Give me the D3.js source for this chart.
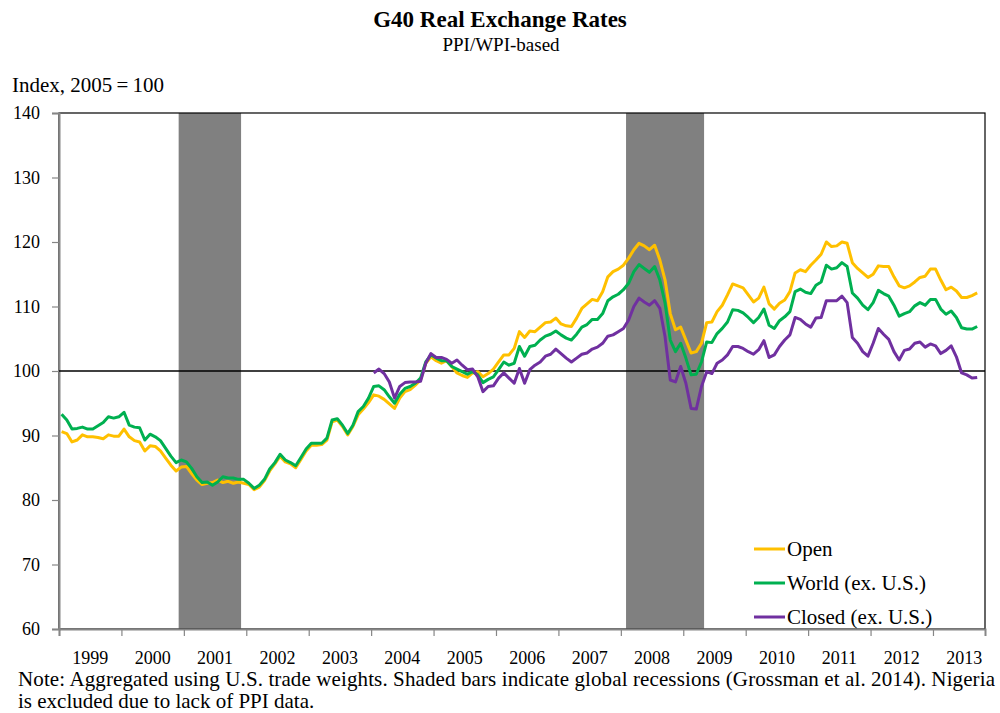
<!DOCTYPE html>
<html><head><meta charset="utf-8">
<script src="https://cdn.jsdelivr.net/npm/d3@7/dist/d3.min.js"></script>
<style>body{margin:0;background:#fff}svg{display:block}text{font-family:"Liberation Serif","Times New Roman",serif;fill:#000}</style>
</head><body><svg id="c" width="1000" height="713"></svg>
<script>
// Monthly data, Jan 1999 .. Sep 2013
const startYear = 1999;
const yearLabels = ["1999","2000","2001","2002","2003","2004","2005","2006","2007","2008","2009","2010","2011","2012","2013"];
const yTicks = [60,70,80,90,100,110,120,130,140];
const recessions = [["2000-12","2001-11"],["2008-02","2009-04"]];
const seriesNames = ["Open","World (ex. U.S.)","Closed (ex. U.S.)"];
const open = [
90.6,90.3,89.0,89.3,90.1,89.8,89.8,89.7,89.5,90.1,89.9,89.9,
91.0,89.8,89.2,89.0,87.6,88.4,88.3,87.6,86.5,85.4,84.5,85.1,
85.2,84.1,83.1,82.4,82.6,82.7,83.1,82.7,82.9,82.6,82.8,82.6,
82.4,81.6,82.0,83.0,84.5,85.6,86.8,85.9,85.6,85.0,86.3,87.6,
88.5,88.5,88.6,89.3,92.1,92.4,91.4,90.1,91.4,93.2,94.1,95.1,
96.3,96.1,95.6,94.9,94.2,95.8,96.8,97.1,97.8,98.6,101.2,102.2,
101.6,101.2,101.6,100.7,99.7,99.3,99.0,99.7,99.9,99.1,99.6,100.3,
101.4,102.5,102.5,103.5,106.1,105.2,106.2,106.1,106.8,107.5,107.6,108.2,
107.3,107.0,106.9,108.2,109.7,110.4,111.1,110.9,112.3,114.6,115.4,115.8,
116.4,117.5,118.8,119.8,119.4,118.8,119.5,117.2,114.1,108.9,106.4,106.8,
104.8,102.8,103.0,104.3,107.5,107.6,109.2,110.2,111.8,113.5,113.2,112.9,
111.8,110.7,111.3,113.0,110.4,109.6,110.5,111.0,112.3,115.2,115.7,115.4,
116.4,117.2,118.1,120.0,119.3,119.4,120.0,119.8,116.8,115.9,115.2,114.5,
115.0,116.3,116.2,116.2,114.6,113.2,112.9,113.2,113.8,114.5,114.7,115.8,
115.8,114.1,112.6,113.0,112.4,111.4,111.4,111.7,112.1];
const world = [
93.3,92.4,91.0,91.1,91.3,91.0,91.0,91.5,92.0,92.9,92.7,92.9,
93.6,91.6,91.3,91.2,89.3,90.2,89.8,89.2,88.0,86.8,85.8,86.2,
85.9,84.9,83.6,82.7,82.8,82.3,82.8,83.6,83.4,83.4,83.2,83.2,
82.6,81.8,82.3,83.2,84.8,85.8,87.1,86.2,85.8,85.3,86.6,87.9,
88.8,88.8,88.8,89.6,92.4,92.6,91.6,90.3,91.6,93.7,94.5,95.8,
97.6,97.7,97.1,96.0,95.0,96.4,97.3,97.6,98.1,98.9,101.4,102.5,
102.0,101.6,101.6,100.7,100.3,99.9,99.5,99.9,99.4,98.2,98.7,99.1,
100.2,101.4,100.9,101.2,103.8,102.3,103.8,104.0,104.8,105.4,105.7,106.2,
105.6,105.1,104.8,105.7,106.8,107.2,108.0,108.0,108.9,110.9,111.5,111.9,
112.6,113.6,115.4,116.5,115.9,115.3,116.2,114.1,110.5,104.8,103.0,104.3,
102.0,99.4,99.5,101.4,104.5,104.4,105.8,106.6,107.6,109.5,109.4,109.0,
108.3,107.5,108.3,109.6,107.1,106.6,107.8,108.4,109.2,112.3,112.7,112.2,
112.0,113.3,113.8,116.4,115.8,116.0,116.8,116.2,112.1,111.3,110.2,109.5,
110.6,112.5,112.0,111.6,110.2,108.5,108.9,109.2,110.1,110.6,110.2,111.1,
111.1,109.6,108.8,109.3,108.3,106.7,106.5,106.5,106.9];
const closed = [
null,null,null,null,null,null,null,null,null,null,null,null,
null,null,null,null,null,null,null,null,null,null,null,null,
null,null,null,null,null,null,null,null,null,null,null,null,
null,null,null,null,null,null,null,null,null,null,null,null,
null,null,null,null,null,null,null,null,null,null,null,null,
99.7,100.3,99.6,98.3,95.8,97.6,98.2,98.3,98.3,98.4,101.2,102.7,
102.1,102.1,101.8,101.2,101.7,100.9,100.2,100.3,99.1,96.8,97.6,97.7,
98.9,99.7,98.9,98.1,100.4,98.1,100.2,100.9,101.4,102.3,102.6,103.4,
102.7,102.0,101.4,102.0,102.6,102.8,103.4,103.7,104.3,105.4,105.6,106.1,
106.6,107.9,110.0,111.3,110.7,110.2,110.9,109.7,105.3,98.6,98.3,100.7,
98.1,94.2,94.1,97.6,99.9,99.6,101.2,101.7,102.5,103.8,103.8,103.5,
103.0,102.6,103.3,104.7,102.1,102.5,103.8,104.8,105.6,108.3,108.0,107.3,
106.8,108.2,108.3,110.9,110.9,110.9,111.6,110.6,105.2,104.3,103.0,102.3,
104.3,106.6,105.7,104.9,103.0,101.7,103.2,103.4,104.3,104.5,103.7,104.2,
103.9,102.7,103.2,103.9,102.2,99.7,99.4,98.9,99.0];
const colors = ["#FFC000","#00B050","#7030A0"];

const svg = d3.select("#c");
const L=59,R=985,T=113,B=629;
const nCat = 178;
const x = d3.scaleLinear().domain([0,nCat]).range([L,R]);
const y = d3.scaleLinear().domain([60,140]).range([B,T]);
const mIdx = s => { const [yy,mm]=s.split("-").map(Number); return (yy-startYear)*12+mm-1; };

// titles
svg.append("text").attr("x",500).attr("y",27).attr("text-anchor","middle").style("font-size","23px").style("font-weight","bold").text("G40 Real Exchange Rates");
svg.append("text").attr("x",501).attr("y",51).attr("text-anchor","middle").style("font-size","19px").text("PPI/WPI-based");
svg.append("text").attr("x",12).attr("y",92).style("font-size","21px").text("Index, 2005\u2009=\u2009100");

// recessions
svg.append("g").selectAll("rect").data(recessions).join("rect")
  .attr("x",d=>x(mIdx(d[0]))).attr("width",d=>x(mIdx(d[1])+1)-x(mIdx(d[0])))
  .attr("y",T).attr("height",B-T).attr("fill","#808080");

// frame
svg.append("rect").attr("x",L).attr("y",T).attr("width",R-L).attr("height",B-T).attr("fill","none").attr("stroke","#000").attr("stroke-width",1.2);

// axes
const yAxis = d3.axisLeft(y).tickValues(yTicks).tickSize(7).tickPadding(12);
const gy = svg.append("g").attr("transform",`translate(${L},0)`).call(yAxis);
gy.select(".domain").attr("stroke","#868686").attr("stroke-width",2);
gy.selectAll(".tick line").attr("stroke","#868686").attr("stroke-width",1.2);
gy.selectAll(".tick text").style("font-size","18px").attr("font-family",null);

const yearTicks = d3.range(0,nCat,12);
const xAxis = d3.axisBottom(x).tickValues(yearTicks).tickSize(7).tickFormat("");
const gx = svg.append("g").attr("transform",`translate(0,${B})`).call(xAxis);
gx.select(".domain").attr("stroke","#868686").attr("stroke-width",2);
gx.selectAll(".tick line").attr("stroke","#868686").attr("stroke-width",1.2);
svg.append("g").selectAll("text").data(yearLabels).join("text")
  .attr("x",(d,i)=>x(i*12+6)).attr("y",664).attr("text-anchor","middle").style("font-size","18px").text(d=>d);

// 100 line
svg.append("line").attr("x1",L).attr("x2",R).attr("y1",y(100)).attr("y2",y(100)).attr("stroke","#000").attr("stroke-width",1.5);

// series
const line = d3.line().defined(d=>d!=null).x((d,i)=>x(i+0.5)).y(d=>y(d));
[open,world,closed].forEach((s,k)=>{
  svg.append("path").datum(s).attr("d",line).attr("fill","none").attr("stroke",colors[k]).attr("stroke-width",3).attr("stroke-linejoin","round");
});

// legend
const lg = svg.append("g");
seriesNames.forEach((n,k)=>{
  const yy = 549 + k*34;
  lg.append("line").attr("x1",754).attr("x2",785).attr("y1",yy).attr("y2",yy).attr("stroke",colors[k]).attr("stroke-width",3);
  lg.append("text").attr("x",787).attr("y",yy+7).style("font-size","21px").text(n);
});

// note
svg.append("text").attr("x",18).attr("y",686).style("font-size","21px").attr("textLength",977).attr("lengthAdjust","spacing").text("Note: Aggregated using U.S. trade weights. Shaded bars indicate global recessions (Grossman et al. 2014). Nigeria");
svg.append("text").attr("x",18).attr("y",708).style("font-size","21px").text("is excluded due to lack of PPI data.");
</script></body></html>
